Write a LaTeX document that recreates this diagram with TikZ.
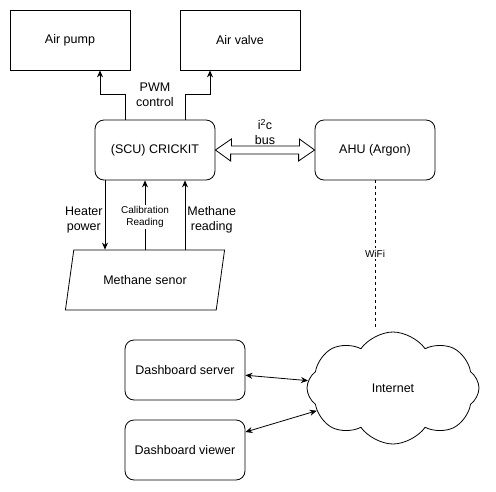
\documentclass[tikz,border=0pt]{standalone}
\usepackage{fontspec}
\setmainfont{Liberation Sans}
\usetikzlibrary{arrows.meta,positioning,shapes.geometric,shapes.symbols,calc}

\begin{document}
\begin{tikzpicture}[x=1pt,y=-1pt,every path/.style={line width=0.8pt},
  box/.style={draw,rectangle,minimum width=120pt,minimum height=60pt,font=\fontsize{12.5}{15}\selectfont},
  rbox/.style={box,rounded corners=9pt},
  lbl/.style={align=center,font=\fontsize{12.5}{15}\selectfont,inner sep=2pt},
  tip/.style={-{Stealth[length=7pt,width=6pt]}},
  dtip/.style={{Stealth[length=7pt,width=6pt]}-{Stealth[length=7pt,width=6pt]}}]

\useasboundingbox (0,0) rectangle (496,491);

\node (pump) [box] at (70, 40) {Air pump};
\node (valve) [box] at (240, 40) {Air valve};
\node (crickit) [rbox] at (155, 150) {(SCU) CRICKIT};
\node (ahu) [rbox] at (375, 150) {AHU (Argon)};
\node (sensor) [draw,trapezium,trapezium stretches=true,trapezium left angle=71.6,trapezium right angle=108.4,minimum width=160pt,minimum height=60pt,font=\fontsize{12.5}{15}\selectfont] at (145, 280) {Methane senor};
\node (server) [rbox] at (185, 370) {Dashboard server};
\node (viewer) [rbox] at (185, 450) {Dashboard viewer};
\node (net) [draw,cloud,cloud puffs=8,cloud puff arc=110,aspect=1.5,minimum width=172pt,minimum height=112pt,font=\fontsize{12.5}{15}\selectfont] at (393, 388) {Internet};

% PWM outputs
\draw[tip] ([xshift=-30pt]crickit.north) -- ++(0,-25) -| ([xshift=30pt]pump.south);
\draw[tip] ([xshift=30pt]crickit.north) -- ++(0,-25) -| ([xshift=-30pt]valve.south);
\node (pwm) [lbl] at ($(crickit.north)+(0,-25)$) {PWM\\control};

% sensor lines
\draw[tip] ([xshift=-50pt]crickit.south) -- ([xshift=-50pt]crickit.south |- sensor.north)
  node[lbl,anchor=east,pos=0.57] {Heater\\power};
\draw[tip] ([xshift=-10pt]crickit.south |- sensor.north) -- ([xshift=-10pt]crickit.south)
  node[align=center,font=\fontsize{10}{12}\selectfont,fill=white,inner sep=1pt,pos=0.47] {Calibration\\Reading};
\draw[tip] ([xshift=30pt]crickit.south |- sensor.north) -- ([xshift=30pt]crickit.south)
  node[lbl,anchor=west,pos=0.43] {Methane\\reading};

% i2c bus
\draw (crickit.east) -- ++(16,-11) -- ++(0,7) -- ++(68,0) -- ++(0,-7) -- (ahu.west)
  -- ++(-16,11) -- ++(0,-7) -- ++(-68,0) -- ++(0,7) -- cycle;
\node (bus) [lbl] at ($(crickit.east)!0.5!(ahu.west)+(0,-18)$) {i\textsuperscript{2}c\\bus};

% WiFi
\draw[dash pattern=on 3pt off 3pt] (ahu.south) -- ([yshift=5pt]ahu.south |- net.north)
  node[lbl,fill=white,font=\fontsize{10}{12}\selectfont,pos=0.5] {WiFi};

\draw[dtip] (server) -- (net);
\draw[dtip] (viewer) -- (net);

\end{tikzpicture}
\end{document}
